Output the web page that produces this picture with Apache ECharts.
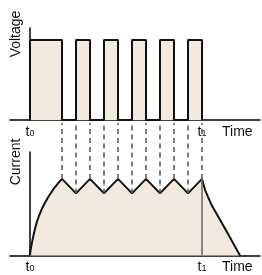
<!DOCTYPE html>
<html>
<head>
<meta charset="utf-8">
<script src="https://cdn.jsdelivr.net/npm/echarts@6/dist/echarts.min.js"></script>
<style>
  html, body { margin: 0; padding: 0; background: #fff; }
  #chart { width: 262px; height: 275px; }
</style>
</head>
<body>
<div id="chart"></div>
<script>
// times are in arbitrary units, t0 = 0, t1 = 172
var pulseEdges = [0, 32, 46, 60, 74, 88, 102, 116, 130, 144, 158, 172];
// current: charging curve, sawtooth while pulsing, decay after t1
var riseT = [0, 0.56, 1.5, 2.8, 4.7, 6.9, 9.3, 12.4, 15.5, 18.7, 21.7, 24.8, 28, 32];
var riseI = [0, 0.053, 0.1, 0.165, 0.246, 0.326, 0.391, 0.462, 0.52, 0.572, 0.616, 0.659, 0.697, 0.74];
var sawT = [32, 46, 60, 74, 88, 102, 116, 130, 144, 158, 172];
var sawI = [0.74, 0.6, 0.74, 0.6, 0.74, 0.6, 0.74, 0.6, 0.74, 0.6, 0.74];
var decayT = [172, 175, 178, 182, 186, 190, 195, 200, 205, 210];
var decayI = [0.74, 0.635, 0.567, 0.48, 0.413, 0.346, 0.26, 0.173, 0.087, 0];
var tickTimes = [0, 172];
var tickNames = ["t{s|0}", "t{s|1}"];

(function pulseChart() {
  var chart = echarts.init(document.getElementById("chart"));
  var font = "'Liberation Sans', Arial, sans-serif";
  var fill = "#f2eadf";

  function pairs(xs, ys) { return xs.map(function (x, k) { return [x, ys[k]]; }); }

  // voltage: square pulses, high between each pair of edges
  var voltage = [];
  for (var i = 0; i < pulseEdges.length; i += 2) {
    voltage.push([pulseEdges[i], 0], [pulseEdges[i], 1], [pulseEdges[i + 1], 1], [pulseEdges[i + 1], 0]);
  }

  // dashed guides from the voltage axis down to the current at every edge
  var guides = [];
  pulseEdges.slice(1).forEach(function (t) {
    guides.push([t, sawI[sawT.indexOf(t)]], [t, 1.28], null);
  });
  var tEnd = pulseEdges[pulseEdges.length - 1];
  var endLine = [[tEnd, 0], [tEnd, sawI[sawT.indexOf(tEnd)]]];

  function xAxis(idx) {
    return {
      type: "value", gridIndex: idx, min: -20, max: 230,
      axisLine: { lineStyle: { color: "#000", width: 1.5 } },
      axisTick: { show: false },
      splitLine: { show: false },
      axisLabel: {
        customValues: tickTimes, margin: 5, color: "#111",
        fontFamily: font, fontSize: 14,
        formatter: function (v) { return tickNames[tickTimes.indexOf(v)]; },
        rich: { s: { fontSize: 9, fontFamily: font, verticalAlign: "bottom", padding: [0, 0, 1, 0] } }
      },
      name: "Time", nameLocation: "end", nameGap: -38,
      nameTextStyle: { fontFamily: font, fontSize: 14, color: "#111", align: "left", verticalAlign: "top", padding: [5, 0, 0, 0] }
    };
  }
  function yAxis(idx, max) {
    return {
      type: "value", gridIndex: idx, min: 0, max: max,
      axisLine: { show: true, onZero: true, lineStyle: { color: "#000", width: 1.5 } },
      axisTick: { show: false }, axisLabel: { show: false }, splitLine: { show: false }
    };
  }
  function curve(data, smooth) {
    return { type: "line", xAxisIndex: 1, yAxisIndex: 1, data: data, symbol: "none",
      smooth: smooth, smoothMonotone: "x",
      lineStyle: { color: "#111", width: 2 }, areaStyle: { color: fill, opacity: 1 } };
  }

  chart.setOption({
    animation: false,
    grid: [
      { left: 10, width: 250, top: 28, height: 92 },
      { left: 10, width: 250, top: 152, height: 103.5 }
    ],
    xAxis: [xAxis(0), xAxis(1)],
    yAxis: [yAxis(0, 1.15), yAxis(1, 1)],
    graphic: [
      { type: "text", x: 16, y: 34, rotation: Math.PI / 2,
        style: { text: "Voltage", font: "14px " + font, fill: "#111", align: "center", verticalAlign: "middle" } },
      { type: "text", x: 16, y: 162, rotation: Math.PI / 2,
        style: { text: "Current", font: "14px " + font, fill: "#111", align: "center", verticalAlign: "middle" } }
    ],
    series: [
      { type: "line", xAxisIndex: 0, yAxisIndex: 0, data: voltage, symbol: "none",
        lineStyle: { color: "#111", width: 2 }, areaStyle: { color: fill, opacity: 1 } },
      curve(pairs(riseT, riseI), false),
      curve(pairs(sawT, sawI), false),
      curve(pairs(decayT, decayI), false),
      { type: "line", xAxisIndex: 1, yAxisIndex: 1, data: endLine, symbol: "none",
        lineStyle: { color: "#666", width: 1.5 } },
      { type: "line", xAxisIndex: 1, yAxisIndex: 1, data: guides, symbol: "none", clip: false,
        connectNulls: false, lineStyle: { color: "#555", width: 1.5, type: [5, 4] } }
    ]
  });
})();
</script>
</body>
</html>
